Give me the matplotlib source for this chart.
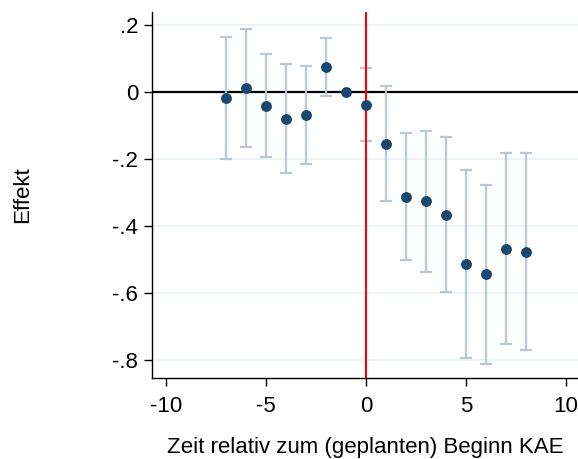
import numpy as np
import matplotlib
matplotlib.use("Agg")
import matplotlib.pyplot as plt

plt.rcParams['font.family'] = ['Liberation Sans', 'DejaVu Sans']

# Ereigniszeit relativ zum Beginn
zeit = [-7, -6, -5, -4, -3, -2, -1, 0, 1, 2, 3, 4, 5, 6, 7, 8]
effekt = [-0.017, 0.012, -0.041, -0.079, -0.070, 0.075, 0.0, -0.038,
          -0.154, -0.312, -0.326, -0.366, -0.514, -0.544, -0.468, -0.478]
ci_oben = [0.165, 0.189, 0.114, 0.084, 0.078, 0.161, 0.0, 0.072,
           0.018, -0.122, -0.117, -0.134, -0.234, -0.276, -0.183, -0.181]
ci_unten = [-0.200, -0.165, -0.195, -0.241, -0.216, -0.011, 0.0, -0.146,
            -0.324, -0.501, -0.536, -0.598, -0.795, -0.812, -0.751, -0.771]
yticks = [0.2, 0, -0.2, -0.4, -0.6, -0.8]
ytick_labels = ['.2', '0', '-.2', '-.4', '-.6', '-.8']
xticks = [-10, -5, 0, 5, 10]

fig = plt.figure(figsize=(5.78, 4.59), dpi=100)
ax = fig.add_axes([0.263, 0.176, 0.737, 0.798])

x = np.array(zeit)
y = np.array(effekt)
lo = np.array(ci_unten)
hi = np.array(ci_oben)
mask = hi != lo  # Referenzperiode ohne Intervall

for yt in yticks:
    ax.axhline(yt, color='#eaf2f3', lw=1.2, zorder=0)
ax.axhline(0, color='black', lw=1.6, zorder=1)
ax.axvline(0, color='#ff0000', lw=1.5, zorder=3)

ax.errorbar(x[mask], y[mask], yerr=[y[mask] - lo[mask], hi[mask] - y[mask]],
            fmt='none', ecolor='#b9c7d6', elinewidth=1.6, capsize=4.5,
            capthick=1.6, zorder=2)
ax.plot(x, y, 'o', color='#1a476f', markersize=6.8, zorder=4)

ax.set_xlim(-10.7, 10.6)
ax.set_ylim(-0.854, 0.239)
ax.set_xticks(xticks)
ax.set_xticklabels([str(t) for t in xticks])
ax.set_yticks(yticks)
ax.set_yticklabels(ytick_labels)
ax.tick_params(labelsize=16, length=6, width=1)
ax.tick_params(axis='x', pad=7)
ax.tick_params(axis='y', pad=4)
for s in ['top', 'right']:
    ax.spines[s].set_visible(False)
ax.spines['left'].set_linewidth(1)
ax.spines['bottom'].set_linewidth(1)

ax.set_xlabel('Zeit relativ zum (geplanten) Beginn KAE', fontsize=16, labelpad=14)
ax.set_ylabel('Effekt', fontsize=16, labelpad=57)

fig.savefig('out.png', dpi=100)
